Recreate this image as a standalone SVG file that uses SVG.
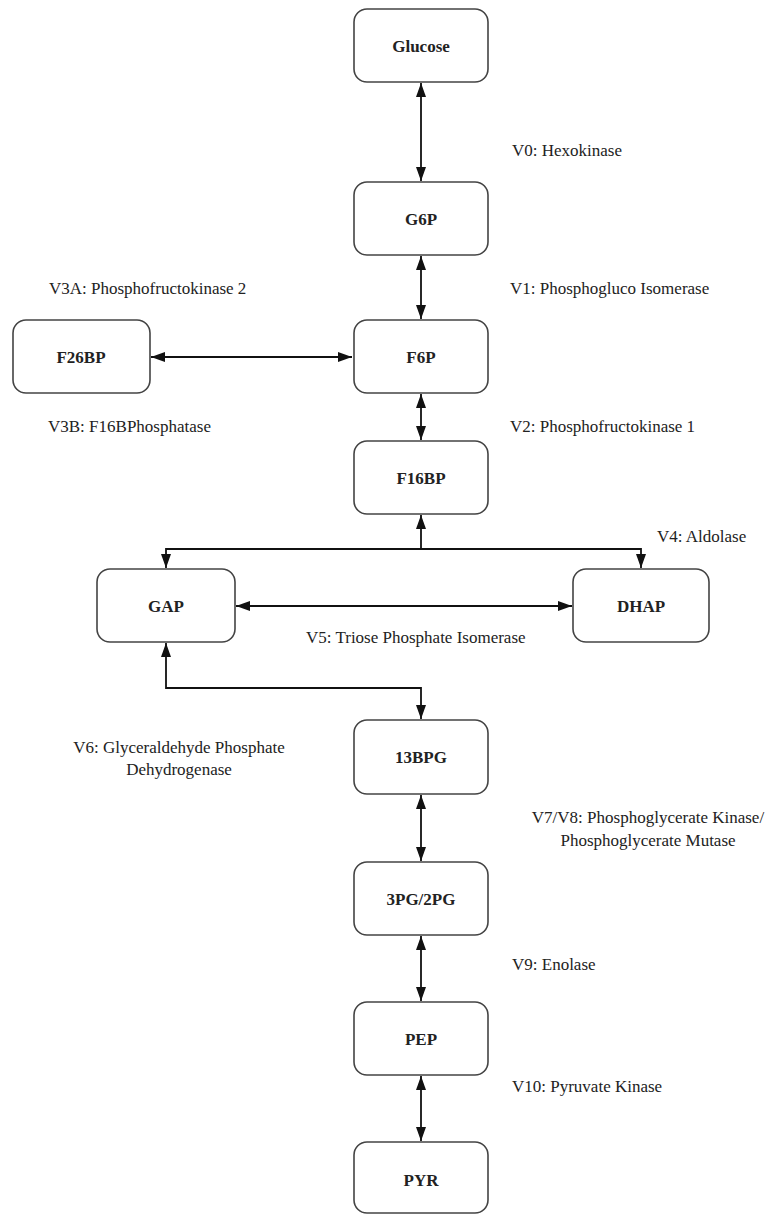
<svg xmlns="http://www.w3.org/2000/svg" width="773" height="1214" viewBox="0 0 773 1214">
<defs>
<marker id="ah" viewBox="0 0 14 10" refX="14" refY="5" markerWidth="14" markerHeight="10" markerUnits="userSpaceOnUse" orient="auto-start-reverse">
<path d="M0,0 L14,5 L0,10 z" fill="#111"/>
</marker>
<style>
.box{fill:#fff;stroke:#444;stroke-width:1.6}
.nt{font-family:"Liberation Serif","Times New Roman",serif;font-weight:bold;font-size:17px;fill:#222;text-anchor:middle}
.lb{font-family:"Liberation Serif","Times New Roman",serif;font-size:17px;fill:#222}
.c{fill:none;stroke:#111;stroke-width:1.8}
</style>
</defs>
<rect width="773" height="1214" fill="#fff"/>
<g id="connectors">
<path class="c" d="M421,83 V181" marker-start="url(#ah)" marker-end="url(#ah)"/>
<path class="c" d="M421,256 V319" marker-start="url(#ah)" marker-end="url(#ah)"/>
<path class="c" d="M151,357 H352" marker-start="url(#ah)" marker-end="url(#ah)"/>
<path class="c" d="M421,394 V440" marker-start="url(#ah)" marker-end="url(#ah)"/>
<path class="c" d="M421,549 V515" marker-end="url(#ah)"/>
<path class="c" d="M166,568 V549 H641 V568" marker-start="url(#ah)" marker-end="url(#ah)"/>
<path class="c" d="M236,606 H572" marker-start="url(#ah)" marker-end="url(#ah)"/>
<path class="c" d="M166,643 V688 H421 V719" marker-start="url(#ah)" marker-end="url(#ah)"/>
<path class="c" d="M421,795 V861" marker-start="url(#ah)" marker-end="url(#ah)"/>
<path class="c" d="M421,936 V1001" marker-start="url(#ah)" marker-end="url(#ah)"/>
<path class="c" d="M421,1076 V1141" marker-start="url(#ah)" marker-end="url(#ah)"/>
</g>
<g id="glucose"><rect class="box" x="354" y="9" width="134" height="73" rx="13"/><text class="nt" x="421" y="52">Glucose</text></g>
<g id="g6p"><rect class="box" x="354" y="182" width="134" height="73" rx="13"/><text class="nt" x="421" y="225">G6P</text></g>
<g id="f6p"><rect class="box" x="354" y="320" width="134" height="73" rx="13"/><text class="nt" x="421" y="363">F6P</text></g>
<g id="f26bp"><rect class="box" x="13" y="320" width="137" height="73" rx="13"/><text class="nt" x="81" y="363">F26BP</text></g>
<g id="f16bp"><rect class="box" x="354" y="441" width="134" height="73" rx="13"/><text class="nt" x="421" y="484">F16BP</text></g>
<g id="gap"><rect class="box" x="97" y="569" width="138" height="73" rx="13"/><text class="nt" x="166" y="612">GAP</text></g>
<g id="dhap"><rect class="box" x="573" y="569" width="136" height="73" rx="13"/><text class="nt" x="641" y="612">DHAP</text></g>
<g id="bpg13"><rect class="box" x="354" y="720" width="134" height="74" rx="13"/><text class="nt" x="421" y="763">13BPG</text></g>
<g id="pg32"><rect class="box" x="354" y="862" width="134" height="73" rx="13"/><text class="nt" x="421" y="905">3PG/2PG</text></g>
<g id="pep"><rect class="box" x="354" y="1002" width="134" height="73" rx="13"/><text class="nt" x="421" y="1045">PEP</text></g>
<g id="pyr"><rect class="box" x="354" y="1142" width="134" height="71" rx="13"/><text class="nt" x="421" y="1186">PYR</text></g>
<g id="labels">
<text class="lb" x="512" y="156">V0: Hexokinase</text>
<text class="lb" x="510" y="294">V1: Phosphogluco Isomerase</text>
<text class="lb" x="49" y="294">V3A: Phosphofructokinase 2</text>
<text class="lb" x="48" y="432">V3B: F16BPhosphatase</text>
<text class="lb" x="510" y="432">V2: Phosphofructokinase 1</text>
<text class="lb" x="657" y="542">V4: Aldolase</text>
<text class="lb" x="306" y="643">V5: Triose Phosphate Isomerase</text>
<text class="lb" x="179" y="753" text-anchor="middle">V6: Glyceraldehyde Phosphate</text>
<text class="lb" x="179" y="775" text-anchor="middle">Dehydrogenase</text>
<text class="lb" x="648" y="823" text-anchor="middle">V7/V8: Phosphoglycerate Kinase/</text>
<text class="lb" x="648" y="846" text-anchor="middle">Phosphoglycerate Mutase</text>
<text class="lb" x="512" y="970">V9: Enolase</text>
<text class="lb" x="512" y="1092">V10: Pyruvate Kinase</text>
</g>
</svg>
